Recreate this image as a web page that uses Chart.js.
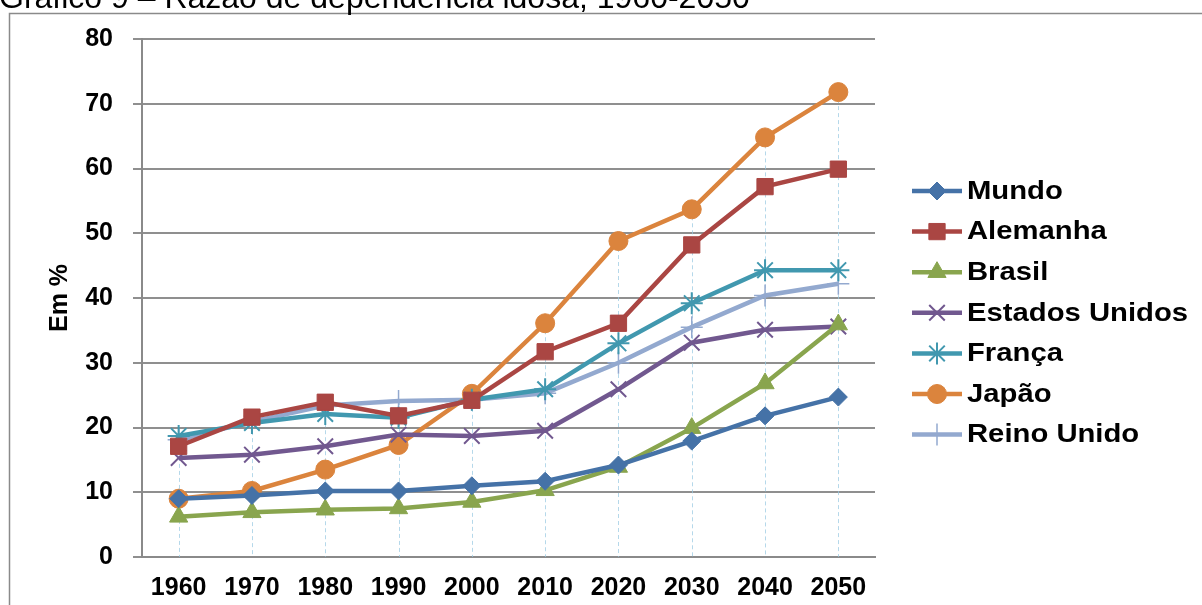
<!DOCTYPE html>
<html>
<head>
<meta charset="utf-8">
<script src="https://cdn.jsdelivr.net/npm/chart.js@4/dist/chart.umd.min.js"></script>
<style>
html,body{margin:0;padding:0;background:#fff;}
#wrap{position:relative;width:1202px;height:605px;}
</style>
</head>
<body>
<div id="wrap"><canvas id="c" width="1202" height="605"></canvas></div>
<script>
const titleText = "Gráfico 9 – Razão de dependência idosa, 1960-2050";
const yAxisTitle = "Em %";
const years = ["1960","1970","1980","1990","2000","2010","2020","2030","2040","2050"];
const mundo        = [9.0, 9.5, 10.2, 10.2, 11.0, 11.7, 14.2, 17.9, 21.8, 24.7];
const alemanha     = [17.1, 21.6, 23.9, 21.8, 24.2, 31.7, 36.1, 48.2, 57.2, 59.9];
const brasil       = [6.2, 6.9, 7.3, 7.5, 8.5, 10.3, 13.9, 19.9, 26.8, 35.9];
const estadosUnidos= [15.3, 15.8, 17.1, 18.9, 18.7, 19.5, 25.9, 33.1, 35.1, 35.6];
const franca       = [18.7, 20.7, 22.1, 21.5, 24.3, 25.9, 33.0, 39.2, 44.3, 44.3];
const japao        = [9.0, 10.2, 13.5, 17.3, 25.2, 36.1, 48.8, 53.7, 64.8, 71.8];
const reinoUnido   = [18.1, 20.9, 23.4, 24.1, 24.3, 25.3, 30.0, 35.5, 40.4, 42.2];
const yTicks = [0,10,20,30,40,50,60,70,80];

const FONT = "'Liberation Sans', Arial, Helvetica, sans-serif";

const seriesDefs = [
  {label:"Mundo", data:mundo, color:"#4572A7", style:"rectRot", r:9, bw:1},
  {label:"Alemanha", data:alemanha, color:"#AA4643", style:"rect", r:11.5, bw:1},
  {label:"Brasil", data:brasil, color:"#89A54E", style:"triangle", r:10.5, bw:1},
  {label:"Estados Unidos", data:estadosUnidos, color:"#71588F", style:"crossRot", r:11, bw:2},
  {label:"França", data:franca, color:"#4198AF", style:"star", r:11, bw:2},
  {label:"Japão", data:japao, color:"#DB843D", style:"circle", r:9.5, bw:1},
  {label:"Reino Unido", data:reinoUnido, color:"#93A9CF", style:"cross", r:11, bw:1.5}
];

const datasets = seriesDefs.map(s => ({
  label: s.label,
  data: s.data,
  borderColor: s.color,
  backgroundColor: s.color,
  borderWidth: 4.5,
  pointStyle: s.style,
  pointRadius: s.r,
  pointHoverRadius: s.r,
  pointBorderWidth: s.bw,
  pointBorderColor: s.color,
  pointBackgroundColor: s.color,
  tension: 0,
  fill: false
}));

const framePlugin = {
  id: 'frame',
  beforeDraw(chart){
    const ctx = chart.ctx;
    ctx.save();
    ctx.fillStyle = '#fff';
    ctx.fillRect(0,0,chart.width,chart.height);
    ctx.strokeStyle = '#8a8a8a';
    ctx.lineWidth = 1.5;
    ctx.strokeRect(9.5, 13.5, 1300, 700);
    ctx.fillStyle = '#000';
    ctx.font = "32px " + FONT;
    ctx.textBaseline = 'alphabetic';
    ctx.textAlign = 'left';
    ctx.fillText(titleText, -1, 8);
    ctx.restore();
  }
};

const dropLinePlugin = {
  id: 'droplines',
  beforeDatasetsDraw(chart){
    const ctx = chart.ctx;
    const xs = chart.scales.x, ys = chart.scales.y;
    ctx.save();
    ctx.strokeStyle = 'rgba(150,200,225,0.7)';
    ctx.lineWidth = 1;
    ctx.setLineDash([4,3]);
    years.forEach((yr, i) => {
      let mx = -Infinity;
      chart.data.datasets.forEach(d => { if (d.data[i] > mx) mx = d.data[i]; });
      const x = Math.round(xs.getPixelForValue(i)) + 0.5;
      ctx.beginPath();
      ctx.moveTo(x, ys.getPixelForValue(mx));
      ctx.lineTo(x, ys.getPixelForValue(0));
      ctx.stroke();
    });
    ctx.restore();
  }
};

const legendPlugin = {
  id: 'customLegend',
  afterDraw(chart){
    const ctx = chart.ctx;
    ctx.save();
    const x0 = 912, x1 = 962, xt = 967;
    seriesDefs.forEach((s, i) => {
      const y = 191 + i * 40.6;
      ctx.strokeStyle = s.color;
      ctx.lineWidth = 4.5;
      ctx.setLineDash([]);
      ctx.beginPath();
      ctx.moveTo(x0, y);
      ctx.lineTo(x1, y);
      ctx.stroke();
      ctx.fillStyle = s.color;
      ctx.strokeStyle = s.color;
      ctx.lineWidth = s.bw;
      if (Chart.helpers && Chart.helpers.drawPoint) {
        Chart.helpers.drawPoint(ctx, {pointStyle: s.style, rotation: 0, radius: s.r, borderWidth: s.bw}, (x0+x1)/2, y);
      }
      ctx.save();
      ctx.translate(xt, y + 1);
      ctx.scale(1.17, 1);
      ctx.fillStyle = '#000';
      ctx.font = "bold 25px " + FONT;
      ctx.textBaseline = 'middle';
      ctx.textAlign = 'left';
      ctx.fillText(s.label, 0, 0);
      ctx.restore();
    });
    ctx.restore();
  }
};

new Chart(document.getElementById('c'), {
  type: 'line',
  data: { labels: years, datasets },
  options: {
    responsive: false,
    animation: false,
    events: [],
    layout: { padding: { left: 0, right: 327, top: 39, bottom: 0 } },
    plugins: {
      legend: { display: false },
      tooltip: { enabled: false },
      title: { display: false }
    },
    scales: {
      x: {
        offset: true,
        grid: { display: false, drawTicks: false },
        border: { display: true, color: '#8a8a8a', width: 2 },
        ticks: { color: '#000', font: { family: FONT, size: 25, weight: 'bold' }, padding: 16, maxRotation: 0, autoSkip: false },
        afterFit(scale){ scale.height = 48; }
      },
      y: {
        min: 0, max: 80,
        afterBuildTicks(scale){ scale.ticks = yTicks.map(v => ({value: v})); },
        grid: { color: '#8f8f8f', lineWidth: 2, tickLength: 9, drawTicks: true },
        border: { display: true, color: '#8a8a8a', width: 2 },
        ticks: { color: '#000', font: { family: FONT, size: 25, weight: 'bold' }, padding: 20 },
        title: { display: true, text: yAxisTitle, color: '#000', font: { family: FONT, size: 25, weight: 'bold' }, padding: { top: 45, bottom: 0 } },
        afterFit(scale){ scale.width = 142; }
      }
    }
  },
  plugins: [framePlugin, dropLinePlugin, legendPlugin]
});
</script>
</body>
</html>
